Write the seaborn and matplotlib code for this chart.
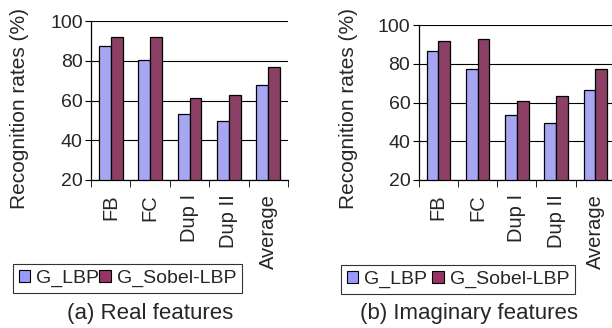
import pandas as pd
import matplotlib.pyplot as plt
import seaborn as sns
from matplotlib.patches import Patch

CATS = ["FB", "FC", "Dup I", "Dup II", "Average"]
METHODS = ["G_LBP", "G_Sobel-LBP"]
REAL_LBP = [87.4, 80.3, 53.3, 49.5, 67.7]
REAL_SOBEL = [92.1, 92.1, 61.3, 62.8, 77.1]
IMAG_LBP = [86.8, 77.1, 53.6, 49.4, 66.6]
IMAG_SOBEL = [91.8, 92.6, 61.0, 63.2, 77.1]
COLORS = ["#9999FF", "#993366"]

sns.set_style("white")
plt.rcParams["font.family"] = ["Liberation Sans", "DejaVu Sans"]

W, H = 612, 328


def make_df(lbp, sobel):
    rows = []
    for c, a, b in zip(CATS, lbp, sobel):
        rows.append({"cat": c, "method": METHODS[0], "val": a})
        rows.append({"cat": c, "method": METHODS[1], "val": b})
    return pd.DataFrame(rows)


def draw_panel(fig, rect, lbp, sobel, ylabel_x, caption, caption_x, legend_rect):
    ax = fig.add_axes(rect)
    df = make_df(lbp, sobel)
    sns.barplot(data=df, x="cat", y="val", hue="method", palette=COLORS,
                edgecolor="black", linewidth=0.9, width=0.6, ax=ax, legend=False)
    ax.set_ylim(20, 100)
    ax.set_xlim(-0.5, len(CATS) - 0.5)
    ax.set_yticks([20, 40, 60, 80, 100])
    ax.yaxis.grid(True, color="black", linewidth=0.8)
    ax.set_axisbelow(True)
    for s in ["top", "right"]:
        ax.spines[s].set_visible(False)
    for s in ["left", "bottom"]:
        ax.spines[s].set_color("black")
        ax.spines[s].set_linewidth(0.9)
    ax.set_xlabel("")
    ax.set_ylabel("")
    ax.tick_params(axis="y", labelsize=14, length=4, color="black", left=True, pad=2)
    ax.set_xticks(range(len(CATS)))
    ax.set_xticklabels(CATS, rotation=90, fontsize=14.5)
    ax.tick_params(axis="x", which="major", length=0, pad=10)
    ax.set_xticks([i - 0.5 for i in range(len(CATS) + 1)], minor=True)
    ax.tick_params(axis="x", which="minor", length=5, color="black", bottom=True)
    fig.text(ylabel_x, 1 - 108 / H, "Recognition rates (%)", rotation=90,
             ha="center", va="center", fontsize=15)
    fig.text(caption_x, 1 - 314 / H, caption, ha="center", va="center", fontsize=16)
    handles = [Patch(facecolor=c, edgecolor="black", linewidth=0.8, label=m)
               for c, m in zip(COLORS, METHODS)]
    leg = fig.legend(handles=handles, loc="center", ncol=2, fontsize=14,
                     bbox_to_anchor=legend_rect, frameon=True, fancybox=False,
                     handlelength=0.6, handleheight=0.6, handletextpad=0.3,
                     columnspacing=0.6, borderpad=0.3, mode="expand")
    leg.get_frame().set_edgecolor("black")
    leg.get_frame().set_linewidth(0.8)
    return ax


fig = plt.figure(figsize=(W / 100, H / 100), dpi=100)

draw_panel(fig, [91 / W, 1 - 180 / H, (288 - 91) / W, (180 - 21) / H],
           REAL_LBP, REAL_SOBEL, 20 / W, "(a) Real features", 150 / W,
           (3 / W, 1 - 297 / H, (252 - 3) / W, 37 / H))
draw_panel(fig, [418.7 / W, 1 - 180 / H, (615 - 418.7) / W, (180 - 25) / H],
           IMAG_LBP, IMAG_SOBEL, 349 / W, "(b) Imaginary features", 469 / W,
           (331 / W, 1 - 297 / H, (585 - 331) / W, 35 / H))

fig.savefig("out.png", dpi=100)
